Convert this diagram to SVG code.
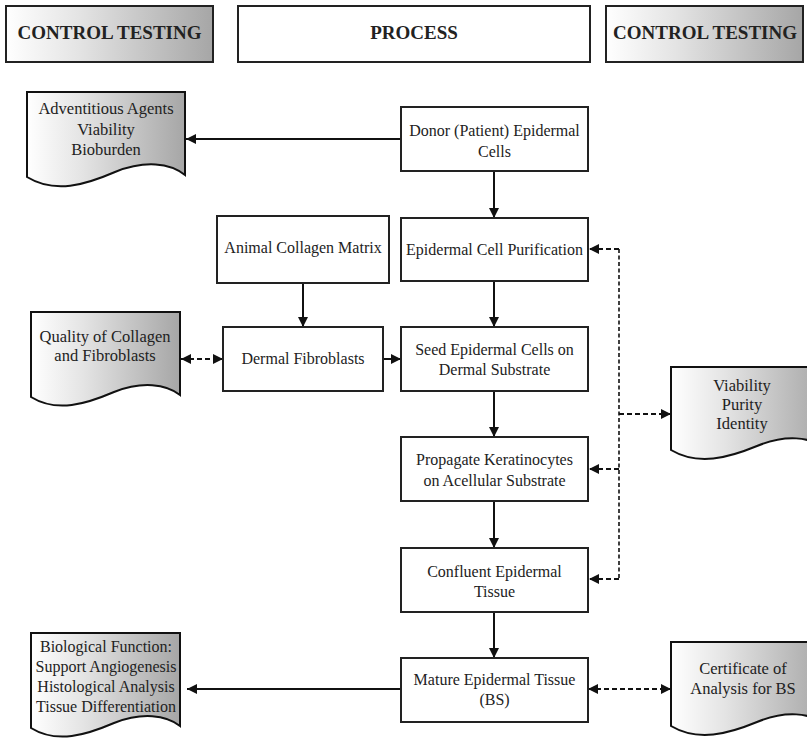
<svg xmlns="http://www.w3.org/2000/svg" width="807" height="740" viewBox="0 0 807 740">
  <defs>
    <linearGradient id="grayFade" x1="0" y1="0" x2="1" y2="0">
      <stop offset="0" stop-color="#ffffff"/>
      <stop offset="0.35" stop-color="#e4e4e4"/>
      <stop offset="1" stop-color="#a6a6a6"/>
    </linearGradient>
    <marker id="arrowEnd" viewBox="0 0 10 10" refX="10" refY="5" markerWidth="11" markerHeight="10" markerUnits="userSpaceOnUse" orient="auto">
      <path d="M0,0 L10,5 L0,10 Z" fill="#111"/>
    </marker>
    <marker id="arrowStart" viewBox="0 0 10 10" refX="0" refY="5" markerWidth="11" markerHeight="10" markerUnits="userSpaceOnUse" orient="auto">
      <path d="M10,0 L0,5 L10,10 Z" fill="#111"/>
    </marker>
  </defs>
  <style>
    .box { fill: #ffffff; stroke: #222; stroke-width: 2; }
    .hdr { stroke: #222; stroke-width: 2; }
    .grad { fill: url(#grayFade); }
    .doc { fill: url(#grayFade); stroke: #111; stroke-width: 2; }
    .t { font-family: "Liberation Serif", "Times New Roman", serif; font-size: 16px; fill: #222; text-anchor: middle; }
    .tl { font-size: 16.5px; }
    .h { font-family: "Liberation Serif", "Times New Roman", serif; font-size: 19px; font-weight: bold; fill: #222; text-anchor: middle; }
    .solid { fill: none; stroke: #111; stroke-width: 2; }
    .dash { fill: none; stroke: #111; stroke-width: 2; stroke-dasharray: 5 3; }
    .dashv { fill: none; stroke: #111; stroke-width: 1.6; stroke-dasharray: 4 2.5; }
  </style>

  <!-- column headers -->
  <g id="hdr-control-left">
    <rect class="hdr grad" x="6" y="6" width="207" height="56"/>
    <text class="h" x="109.5" y="39">CONTROL TESTING</text>
  </g>
  <g id="hdr-process">
    <rect class="hdr" fill="#fff" x="238" y="6" width="352" height="56"/>
    <text class="h" x="414" y="39">PROCESS</text>
  </g>
  <g id="hdr-control-right">
    <rect class="hdr grad" x="606" y="6" width="197" height="56"/>
    <text class="h" x="705" y="39">CONTROL TESTING</text>
  </g>

  <!-- connectors -->
  <g id="connectors">
    <line class="solid" x1="401" y1="139" x2="186" y2="139" marker-end="url(#arrowEnd)"/>
    <line class="solid" x1="494" y1="171" x2="494" y2="218" marker-end="url(#arrowEnd)"/>
    <line class="solid" x1="494" y1="281" x2="494" y2="327" marker-end="url(#arrowEnd)"/>
    <line class="solid" x1="303" y1="283" x2="303" y2="327" marker-end="url(#arrowEnd)"/>
    <line class="solid" x1="383" y1="359" x2="401" y2="359" marker-end="url(#arrowEnd)"/>
    <line class="dash" x1="181" y1="359" x2="223" y2="359" marker-start="url(#arrowStart)" marker-end="url(#arrowEnd)"/>
    <line class="solid" x1="494" y1="391" x2="494" y2="437" marker-end="url(#arrowEnd)"/>
    <line class="solid" x1="494" y1="501" x2="494" y2="548" marker-end="url(#arrowEnd)"/>
    <line class="solid" x1="494" y1="612" x2="494" y2="658" marker-end="url(#arrowEnd)"/>
    <line class="solid" x1="401" y1="689" x2="187" y2="689" marker-end="url(#arrowEnd)"/>
    <line class="dash" x1="588" y1="689" x2="671" y2="689" marker-start="url(#arrowStart)" marker-end="url(#arrowEnd)"/>
    <!-- shared QC return line -->
    <line class="dashv" x1="619" y1="249" x2="619" y2="579"/>
    <line class="dash" x1="619" y1="249" x2="589" y2="249" marker-end="url(#arrowEnd)"/>
    <line class="dash" x1="619" y1="469" x2="589" y2="469" marker-end="url(#arrowEnd)"/>
    <line class="dash" x1="619" y1="579" x2="589" y2="579" marker-end="url(#arrowEnd)"/>
    <line class="dash" x1="619" y1="414" x2="671" y2="414" marker-end="url(#arrowEnd)"/>
  </g>

  <!-- process steps -->
  <g id="donor-cells">
    <rect class="box" x="401" y="107" width="187" height="64"/>
    <text class="t" x="494.5" y="136">Donor (Patient) Epidermal</text>
    <text class="t" x="494.5" y="157">Cells</text>
  </g>
  <g id="cell-purification">
    <rect class="box" x="401" y="218" width="187" height="63"/>
    <text class="t" x="494.5" y="255">Epidermal Cell Purification</text>
  </g>
  <g id="collagen-matrix">
    <rect class="box" x="217" y="216" width="172" height="67"/>
    <text class="t" x="303" y="253">Animal Collagen Matrix</text>
  </g>
  <g id="dermal-fibroblasts">
    <rect class="box" x="223" y="327" width="160" height="64"/>
    <text class="t" x="303" y="364">Dermal Fibroblasts</text>
  </g>
  <g id="seed-cells">
    <rect class="box" x="401" y="327" width="187" height="64"/>
    <text class="t" x="494.5" y="355">Seed Epidermal Cells on</text>
    <text class="t" x="494.5" y="375">Dermal Substrate</text>
  </g>
  <g id="propagate">
    <rect class="box" x="401" y="437" width="187" height="64"/>
    <text class="t" x="494.5" y="465">Propagate Keratinocytes</text>
    <text class="t" x="494.5" y="486">on Acellular Substrate</text>
  </g>
  <g id="confluent-tissue">
    <rect class="box" x="401" y="548" width="187" height="64"/>
    <text class="t" x="494.5" y="577">Confluent Epidermal</text>
    <text class="t" x="494.5" y="597">Tissue</text>
  </g>
  <g id="mature-tissue">
    <rect class="box" x="401" y="658" width="187" height="64"/>
    <text class="t" x="494.5" y="685">Mature Epidermal Tissue</text>
    <text class="t" x="494.5" y="705">(BS)</text>
  </g>

  <!-- control testing documents -->
  <g id="doc-adventitious">
    <path class="doc" d="M27,92 H185 V175 C170,163 145,160 115,172 C85,185 55,194 27,177 Z"/>
    <text class="t tl" x="106" y="114">Adventitious Agents</text>
    <text class="t tl" x="106" y="135">Viability</text>
    <text class="t tl" x="106" y="155">Bioburden</text>
  </g>
  <g id="doc-collagen-quality">
    <path class="doc" d="M31,312 H180 V395 C166,384 142,381 114,392 C86,404 57,413 31,397 Z"/>
    <text class="t tl" x="105" y="342">Quality of Collagen</text>
    <text class="t tl" x="105" y="361">and Fibroblasts</text>
  </g>
  <g id="doc-biological">
    <path class="doc" d="M31,633 H180 V726 C166,715 142,712 114,723 C86,735 57,744 31,728 Z"/>
    <text class="t" x="106" y="652">Biological Function:</text>
    <text class="t" x="106" y="672">Support Angiogenesis</text>
    <text class="t" x="106" y="692">Histological Analysis</text>
    <text class="t" x="106" y="712">Tissue Differentiation</text>
  </g>
  <g id="doc-viability">
    <path class="doc" d="M671,367 H825 V448 C810,437 786,434 757,446 C728,458 698,466 671,450 Z"/>
    <text class="t tl" x="742" y="391">Viability</text>
    <text class="t tl" x="742" y="410">Purity</text>
    <text class="t tl" x="742" y="429">Identity</text>
  </g>
  <g id="doc-certificate">
    <path class="doc" d="M671,642 H825 V724 C810,713 786,710 757,722 C728,734 698,742 671,726 Z"/>
    <text class="t tl" x="743" y="674">Certificate of</text>
    <text class="t tl" x="743" y="694">Analysis for BS</text>
  </g>
</svg>
